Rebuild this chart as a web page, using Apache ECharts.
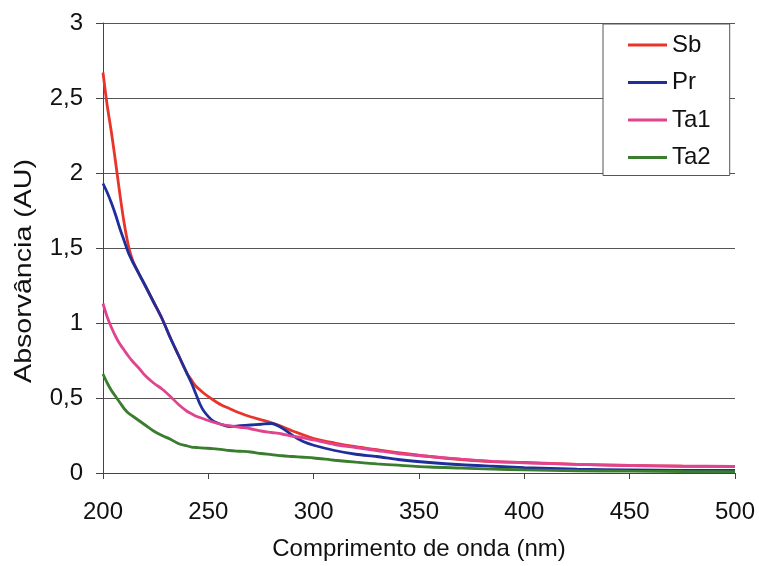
<!DOCTYPE html>
<html>
<head>
<meta charset="utf-8">
<script src="https://cdn.jsdelivr.net/npm/echarts@6/dist/echarts.min.js"></script>
<style>
  html, body { margin: 0; padding: 0; background: #fff; }
  #chart { width: 759px; height: 566px; }
</style>
</head>
<body>
<div id="chart"></div>
<script>
// Wavelength grid (nm)
const wavelengths = [200, 202, 204, 206, 208, 210, 212, 214, 217, 220, 224, 228, 232, 236, 240,
  242, 244, 246, 248, 252, 256, 260, 265, 270, 275, 280, 285, 290, 295, 300,
  310, 320, 330, 340, 355, 370, 385, 400, 425, 450, 475, 500];

// Absorbance (AU) per sample
const sb = [2.67, 2.45, 2.27, 2.07, 1.86, 1.67, 1.52, 1.42, 1.33, 1.25, 1.14, 1.03, 0.90, 0.78, 0.66,
  0.62, 0.58, 0.555, 0.53, 0.49, 0.455, 0.43, 0.40, 0.375, 0.355, 0.335, 0.31, 0.28, 0.255, 0.23,
  0.20, 0.175, 0.155, 0.135, 0.11, 0.09, 0.076, 0.07, 0.058, 0.05, 0.045, 0.042];
const pr = [1.93, 1.87, 1.80, 1.72, 1.63, 1.55, 1.47, 1.41, 1.33, 1.25, 1.14, 1.03, 0.90, 0.78, 0.66,
  0.60, 0.53, 0.46, 0.41, 0.35, 0.325, 0.31, 0.315, 0.32, 0.325, 0.33, 0.30, 0.25, 0.21, 0.185,
  0.15, 0.125, 0.11, 0.09, 0.07, 0.055, 0.045, 0.036, 0.026, 0.021, 0.018, 0.017];
const ta1 = [1.13, 1.04, 0.97, 0.91, 0.86, 0.82, 0.78, 0.745, 0.70, 0.65, 0.60, 0.56, 0.51, 0.455, 0.41,
  0.395, 0.38, 0.37, 0.36, 0.34, 0.325, 0.315, 0.305, 0.295, 0.28, 0.27, 0.26, 0.245, 0.235, 0.22,
  0.19, 0.17, 0.15, 0.13, 0.11, 0.092, 0.078, 0.068, 0.057, 0.05, 0.046, 0.044];
const ta2 = [0.66, 0.60, 0.55, 0.51, 0.47, 0.43, 0.40, 0.38, 0.35, 0.32, 0.28, 0.25, 0.225, 0.195, 0.18,
  0.173, 0.17, 0.168, 0.166, 0.163, 0.157, 0.15, 0.145, 0.14, 0.13, 0.123, 0.115, 0.11, 0.105, 0.10,
  0.085, 0.072, 0.061, 0.052, 0.04, 0.033, 0.026, 0.021, 0.015, 0.012, 0.01, 0.009];

const seriesNames = ['Sb', 'Pr', 'Ta1', 'Ta2'];
const seriesValues = [sb, pr, ta1, ta2];
const seriesColors = ['#e8342b', '#1e2f9c', '#e0448e', '#3a7d2f'];

const FONT = '"Liberation Sans", Arial, sans-serif';

const chart = echarts.init(document.getElementById('chart'), null, { renderer: 'canvas' });

chart.setOption({
  animation: false,
  backgroundColor: '#ffffff',
  grid: { left: 103, right: 24, top: 23, bottom: 87, containLabel: false },
  legend: {
    orient: 'vertical',
    left: 603,
    top: 24,
    padding: [9, 19, 6, 25],
    itemWidth: 39,
    itemHeight: 3,
    itemGap: 13.5,
    backgroundColor: '#ffffff',
    borderColor: '#555555',
    borderWidth: 1,
    borderRadius: 0,
    textStyle: { fontFamily: FONT, fontSize: 24, color: '#111', lineHeight: 24 },
    data: seriesNames.map((n, i) => ({ name: n, icon: 'rect', itemStyle: { color: seriesColors[i] } }))
  },
  xAxis: {
    type: 'value',
    min: 200, max: 500, interval: 50,
    name: 'Comprimento de onda (nm)',
    nameLocation: 'middle',
    nameGap: 64,
    nameTextStyle: { fontFamily: FONT, fontSize: 24, color: '#111' },
    axisLine: { show: true, onZero: false, lineStyle: { color: '#444', width: 1 } },
    axisTick: { show: true, inside: false, length: 6, lineStyle: { color: '#444' } },
    axisLabel: { margin: 27, fontFamily: FONT, fontSize: 24, color: '#111' },
    splitLine: { show: false }
  },
  yAxis: {
    type: 'value',
    min: 0, max: 3, interval: 0.5,
    axisLine: { show: true, lineStyle: { color: '#444', width: 1 } },
    axisTick: { show: true, inside: false, length: 7, lineStyle: { color: '#444' } },
    axisLabel: {
      margin: 20, fontFamily: FONT, fontSize: 24, color: '#111',
      formatter: v => String(v).replace('.', ',')
    },
    splitLine: { show: true, lineStyle: { color: '#555', width: 1 } }
  },
  graphic: [{
    type: 'text',
    x: 24, y: 271,
    rotation: Math.PI / 2,
    scaleX: 1.19,
    style: {
      text: 'Absorvância (AU)',
      font: '24px ' + FONT,
      fill: '#111',
      align: 'center',
      verticalAlign: 'middle'
    }
  }],
  series: seriesNames.map((name, i) => ({
    name,
    type: 'line',
    symbol: 'none',
    smooth: 0.3,
    lineStyle: { color: seriesColors[i], width: 2.8 },
    itemStyle: { color: seriesColors[i] },
    data: wavelengths.map((w, k) => [w, seriesValues[i][k]])
  }))
});
</script>
</body>
</html>
